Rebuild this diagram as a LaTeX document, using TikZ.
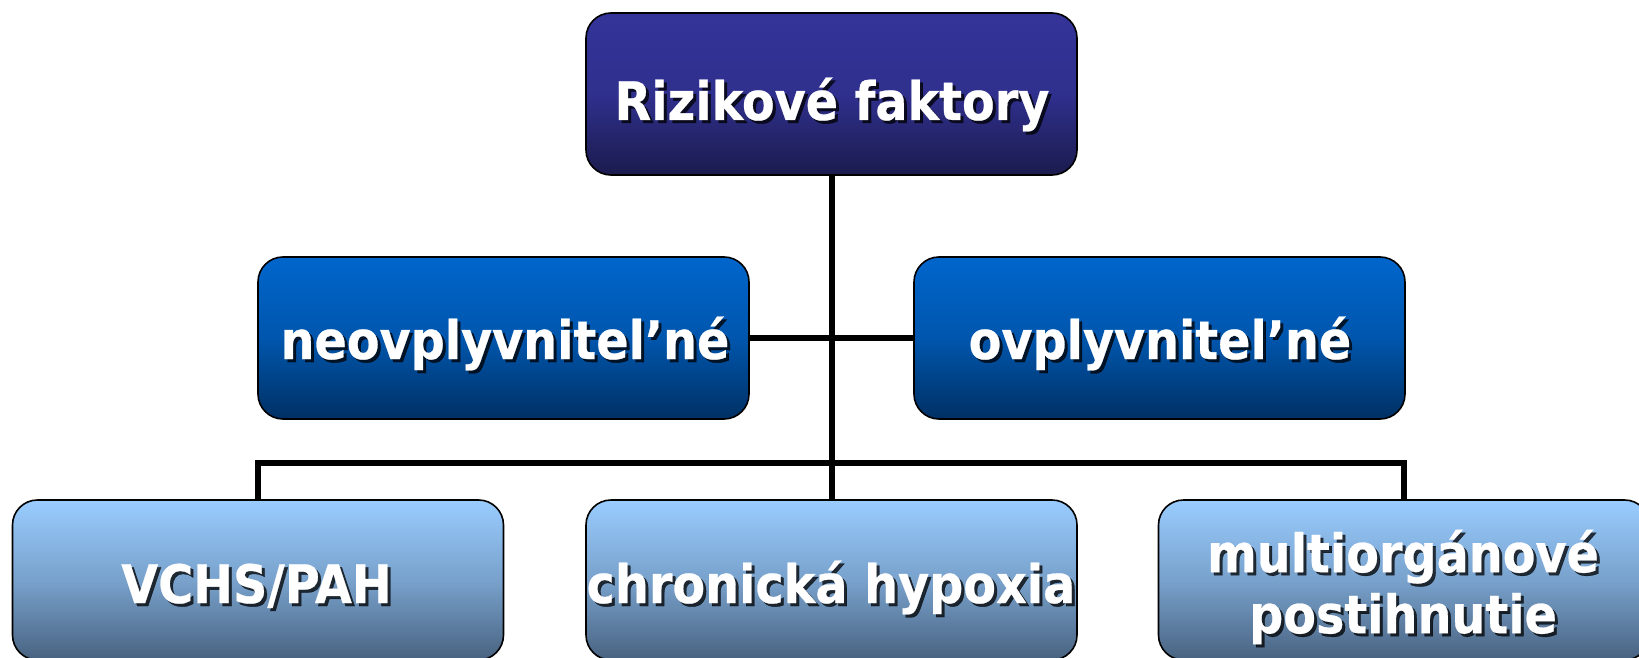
\documentclass[tikz,border=0pt]{standalone}
\usepackage{fontspec}
\setmainfont{DejaVu Sans Condensed}[BoldFeatures={FakeBold=0.5}]
\definecolor{topA}{RGB}{51,51,153}
\definecolor{topB}{RGB}{27,27,78}
\definecolor{midA}{RGB}{0,102,204}
\definecolor{midB}{RGB}{0,48,100}
\definecolor{lowA}{RGB}{153,204,255}
\definecolor{lowB}{RGB}{72,98,128}
\tikzset{
  card/.style={draw=black, line width=1.6pt, rounded corners=25pt,
    minimum width=491pt, inner sep=0pt},
  cardtop/.style={card, minimum height=162pt, top color=topA, bottom color=topB, middle color=topA!85!topB},
  cardmid/.style={card, minimum height=162pt, top color=midA, bottom color=midB, middle color=midA!70!midB},
  cardlow/.style={card, minimum height=160pt, top color=lowA, bottom color=lowB, middle color=lowA!60!lowB},
  tx/.style={text=white, font=\bfseries\fontsize{53}{61}\selectfont, inner sep=0pt, align=center},
  shtx/.style={tx, text=black, text opacity=0.75},
  conn/.style={draw=black, line width=6pt},
}
\newcommand\shadowlabel[4][base]{%
  \node[shtx, anchor=#1] at ([shift={(3,3)}]#2) {#4};
  \node[tx, anchor=#1] (#3) at (#2) {#4};}
\begin{document}
\begin{tikzpicture}[x=1pt, y=-1pt]
\useasboundingbox (0,0) rectangle (1639,658);
% boxes
\node[cardtop] (t)  at (831.5,94) {};
\node[cardmid] (ml) at (503.5,338) {};
\node[cardmid] (mr) at (1159.5,338) {};
\node[cardlow] (bl) at (258,580) {};
\node[cardlow] (bc) at (831.5,580) {};
\node[cardlow] (br) at (1404,580) {};
\coordinate (j) at (831.5,463);
% connectors
\draw[conn] (t.south) -- (bc.north);
\draw[conn] (ml.east) -- (mr.west);
\draw[conn] (bl.north) |- (j) -| (br.north);
% texts
\coordinate (pt) at (832,120);
\coordinate (pml) at (505,359);
\coordinate (pmr) at (1160,359);
\coordinate (pbl) at (256.5,603);
\coordinate (pbc) at (831,603);
\coordinate (pbr) at (1403,587);
\shadowlabel{pt}{tt}{Rizikové faktory}
\shadowlabel{pml}{tml}{neovplyvnitel’né}
\shadowlabel{pmr}{tmr}{ovplyvnitel’né}
\shadowlabel{pbl}{tbl}{VCHS/PAH}
\shadowlabel{pbc}{tbc}{chronická hypoxia}
\shadowlabel[center]{pbr}{tbr}{multiorgánové\\postihnutie}
\end{tikzpicture}
\end{document}
